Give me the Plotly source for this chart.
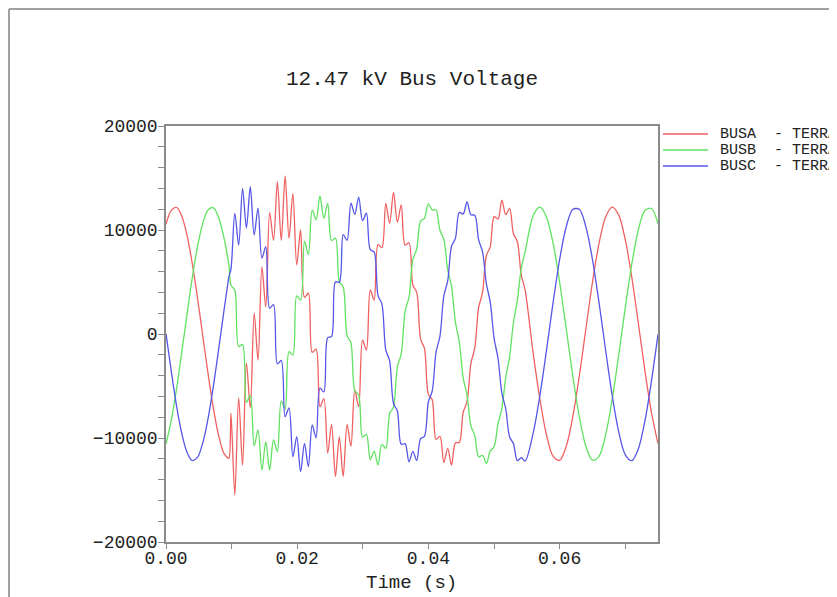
import plotly.graph_objects as go

# ---- data ----
time_s = [
    0.0000, 0.0008, 0.0016, 0.0024, 0.0032, 0.0040, 0.0048, 0.0056, 0.0064, 0.0072, 0.0080, 0.0088, 0.0094, 0.0096,
    0.00990, 0.01049, 0.01108, 0.01167, 0.01226, 0.01285, 0.01344, 0.01403, 0.01462, 0.01521,
    0.01580, 0.01639, 0.01698, 0.01757, 0.01816, 0.01875, 0.01934, 0.01993, 0.02052, 0.02111,
    0.02170, 0.02229, 0.02288, 0.02347, 0.02406, 0.02465, 0.02524, 0.02583, 0.02642, 0.02701,
    0.02760, 0.02819, 0.02878, 0.02937, 0.02996, 0.03055, 0.03114, 0.03173, 0.03232, 0.03291,
    0.03350, 0.03409, 0.03468, 0.03527, 0.03586, 0.03645, 0.03704, 0.03763, 0.03822, 0.03881,
    0.03940, 0.03999, 0.04058, 0.04117, 0.04176, 0.04235, 0.04294, 0.04353, 0.04412, 0.04471,
    0.04530, 0.04589, 0.04648, 0.04707, 0.04766, 0.04825, 0.04884, 0.04943, 0.05002, 0.05061,
    0.05120, 0.05179, 0.05238, 0.05297, 0.05356, 0.05415, 0.05474,
    0.0560, 0.0570, 0.0580, 0.0590, 0.0600, 0.0610, 0.0620, 0.0630, 0.0640, 0.0650,
    0.0660, 0.0670, 0.0680, 0.0690, 0.0700, 0.0710, 0.0720, 0.0730, 0.0740, 0.0750,
]

busa_terra = [
    10540, 11890, 12170, 11340, 9500, 6800, 3480, -150, -3770, -7050, -9690, -11450, -11900, -11950,
    -7600, -15500, -6150, -12600, -2800, -7100, 2000, -2500, 6450, 2600,
    11700, 9000, 14650, 9000, 15200, 9200, 13500, 6650, 10000, 3520,
    3920, -1760, -1450, -6990, -6220, -11440, -8700, -13700, -9900, -13700,
    -8700, -10800, -5380, -6990, -600, -1540, 4230, 3270, 8600, 8300,
    12560, 10640, 13650, 10750, 12420, 8540, 8770, 4710, 4000, -500,
    -1390, -5780, -6320, -10130, -9850, -12360, -10990, -12610, -10450, -10430,
    -7540, -6510, -2820, -1340, 2550, 3970, 7550, 8380, 11290, 11060,
    12870, 11470, 12080, 9620, 8870, 5710, 4230,
    -1990, -6280, -9690, -11740, -12140, -10830, -8000, -4050, 470, 4930,
    8690, 11230, 12200, 11450, 9090, 5460, 1060, -3490, -7540, -10540,
]

busb_terra = [
    -10590, -8310, -5290, -1780, 1880, 5380, 8390, 10640, 11930, 12150, 11260, 9370, 7380, 6620,
    4700, 4200, -1200, -1000, -6580, -5890, -10760, -9250, -13080, -10350,
    -13080, -10190, -11310, -6460, -7220, -1700, -2030, 3660, 3270, 8920,
    7640, 11900, 11000, 13270, 11120, 12560, 8990, 9210, 5030, 4530,
    -130, -840, -5450, -5860, -9920, -9620, -12100, -11260, -12600, -10620,
    -10990, -7650, -7020, -3150, -1910, 2210, 3530, 7160, 8170, 10860,
    11120, 12520, 11930, 11930, 9970, 9100, 6190, 4570, 1130, -770,
    -4210, -5880, -8830, -9770, -11810, -11680, -12460, -11240, -10840, -8630,
    -7180, -4190, -2170, 1130, 3200, 6290, 7900,
    11420, 12200, 11260, 8750, 5000, 550, -3970, -7940, -10800, -12130,
    -11760, -9750, -6360, -2070, 2490, 6720, 9990, 11870, 12070, 10590,
]

busc_terra = [
    50, -3570, -6880, -9550, -11380, -12170, -11870, -10490, -8160, -5100, -1580, 2080, 4730, 5560,
    6200, 11600, 8560, 14000, 10200, 14160, 9520, 12100, 7300, 8400,
    2470, 2820, -2880, -2530, -7960, -7100, -11800, -9870, -13240, -10510,
    -12760, -8750, -9980, -5200, -5570, -350, -240, 5010, 4970, 9550,
    9000, 12570, 11500, 13170, 10900, 11610, 8110, 7880, 3690, 2890,
    -1520, -2580, -6680, -7400, -10610, -10540, -12300, -11290, -12170, -10060,
    -9840, -6540, -5500, -1710, -220, 3650, 5100, 8440, 9210, 11700,
    11540, 12700, 11460, 11420, 9050, 7910, 4810, 3060, -440, -2320,
    -5690, -7180, -9900, -10560, -12170, -11900, -12220,
    -9430, -5910, -1570, 2990, 7140, 10290, 11980, 11990, 10320, 7210,
    3070, -1490, -5840, -9370, -11590, -12180, -11060, -8380, -4530, -40,
]

series_names = ["BUSA\u00a0\u00a0-\u00a0TERRA", "BUSB\u00a0\u00a0-\u00a0TERRA", "BUSC\u00a0\u00a0-\u00a0TERRA"]
series_values = [busa_terra, busb_terra, busc_terra]
series_colors = ["rgb(240,96,96)", "rgb(96,226,96)", "rgb(86,86,232)"]

chart_title = "12.47 kV Bus Voltage"
x_title = "Time (s)"

FONT = "Liberation Mono, DejaVu Sans Mono, monospace"
AXIS_GREY = "#8a8a8a"
TEXT = "#222222"

fig = go.Figure()
for name, vals, col in zip(series_names, series_values, series_colors):
    fig.add_trace(go.Scatter(
        x=time_s, y=vals, mode="lines", name=name,
        line=dict(color=col, width=1.3, shape="spline", smoothing=0.9),
        showlegend=False, hoverinfo="skip",
    ))

# page offset of the figure (browser body margin)
OFF = 8
W, H = 837 - OFF, 597 - OFF
L, R, T, B = 158, 179, 118, 55
pw, ph = W - L - R, H - T - B

def px_x(page_x):
    return (page_x - OFF - L) / pw

def px_y(page_y):
    return (H - B - (page_y - OFF)) / ph

fig.update_layout(
    width=W, height=H,
    margin=dict(l=L, r=R, t=T, b=B, pad=0),
    paper_bgcolor="white", plot_bgcolor="white",
    font=dict(family=FONT, color=TEXT),
    xaxis=dict(
        range=[0, 0.075], tick0=0, dtick=0.02, tickformat=".2f",
        ticks="outside", ticklen=5, tickwidth=1, tickcolor=AXIS_GREY,
        minor=dict(dtick=0.01, ticks="outside", ticklen=5, tickwidth=1, tickcolor=AXIS_GREY),
        showline=True, linecolor=AXIS_GREY, linewidth=1.5, mirror=True,
        showgrid=False, zeroline=False, ticklabelstandoff=-6,
        tickfont=dict(family=FONT, size=18, color=TEXT),
    ),
    yaxis=dict(
        range=[-20000, 20000], tick0=0, dtick=10000, tickformat="d",
        ticks="outside", ticklen=6, tickwidth=1, tickcolor=AXIS_GREY,
        minor=dict(dtick=2000, ticks="outside", ticklen=6, tickwidth=1, tickcolor=AXIS_GREY),
        showline=True, linecolor=AXIS_GREY, linewidth=1.5, mirror=True,
        showgrid=False, zeroline=False, ticklabelstandoff=-3,
        tickfont=dict(family=FONT, size=18, color=TEXT),
    ),
)

annotations = [
    dict(text=chart_title, xref="paper", yref="paper", x=0.5, y=px_y(80),
         xanchor="center", yanchor="middle", showarrow=False,
         font=dict(family=FONT, size=21, color=TEXT)),
    dict(text=x_title, xref="paper", yref="paper", x=px_x(411), y=px_y(583),
         xanchor="center", yanchor="middle", showarrow=False,
         font=dict(family=FONT, size=19, color=TEXT)),
]
shapes = []
legend_rows = [134, 150, 166]
for name, col, py in zip(series_names, series_colors, legend_rows):
    shapes.append(dict(type="line", xref="paper", yref="paper",
                       x0=px_x(663), x1=px_x(708), y0=px_y(py), y1=px_y(py),
                       line=dict(color=col, width=1.3)))
    annotations.append(dict(text=name, xref="paper", yref="paper",
                            x=px_x(718), y=px_y(py), xanchor="left", yanchor="middle",
                            showarrow=False, font=dict(family=FONT, size=15, color=TEXT)))

# window frame (top and left edges)
shapes.append(dict(type="line", xref="paper", yref="paper",
                   x0=px_x(9), x1=px_x(840), y0=px_y(9), y1=px_y(9),
                   line=dict(color="#a0a0a0", width=2)))
shapes.append(dict(type="line", xref="paper", yref="paper",
                   x0=px_x(9), x1=px_x(9), y0=px_y(9), y1=px_y(600),
                   line=dict(color="#a0a0a0", width=2)))

fig.update_layout(annotations=annotations, shapes=shapes)

fig.write_html("out.html")
